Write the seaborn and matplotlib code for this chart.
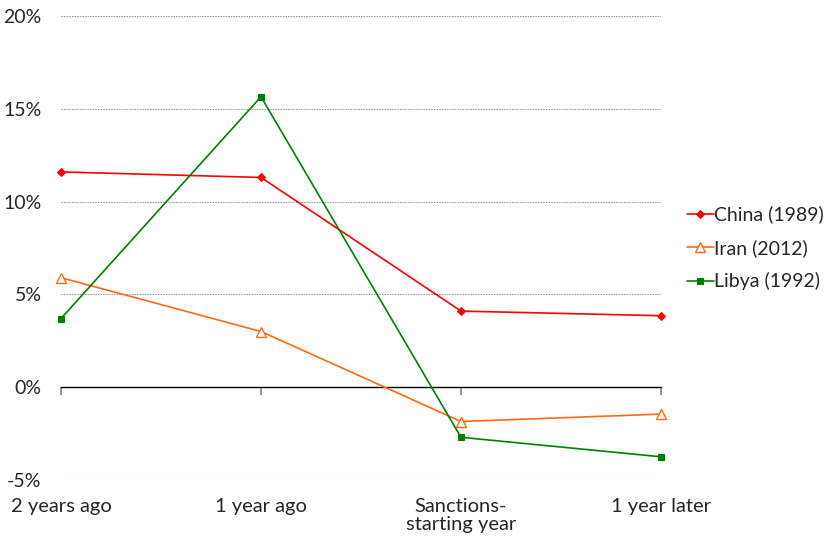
import matplotlib
matplotlib.use("Agg")
import matplotlib.pyplot as plt
import pandas as pd
import seaborn as sns

# Real GDP growth around the start of sanctions
periods = ["2 years ago", "1 year ago", "Sanctions-\nstarting year", "1 year later"]
china_1989 = [11.6, 11.3, 4.1, 3.85]
iran_2012 = [5.9, 3.0, -1.85, -1.45]
libya_1992 = [3.7, 15.65, -2.7, -3.75]

series_names = ["China (1989)", "Iran (2012)", "Libya (1992)"]
y_ticks = [-5, 0, 5, 10, 15, 20]

rows = []
for name, vals in zip(series_names, [china_1989, iran_2012, libya_1992]):
    for i, v in enumerate(vals):
        rows.append({"period": i, "growth": v, "country": name})
df = pd.DataFrame(rows)

sns.set_theme(style="white")
plt.rcParams["font.family"] = ["Lato", "DejaVu Sans"]

fig = plt.figure(figsize=(8.29, 5.41), dpi=100)
ax = fig.add_axes([0.0736, 0.1128, 0.7237, 0.8576])

ORANGE = "#ff6a10"
RED = "#ff0000"
GREEN = "#008000"
palette = {"China (1989)": RED, "Iran (2012)": ORANGE, "Libya (1992)": GREEN}
markers = {"China (1989)": "D", "Iran (2012)": "^", "Libya (1992)": "s"}

sns.lineplot(data=df, x="period", y="growth", hue="country", style="country",
             palette=palette, markers=markers, dashes=False, linewidth=1.2,
             markersize=5, ax=ax, legend=True)


def style_line(line):
    c = matplotlib.colors.to_hex(line.get_color()).lower()
    if c == ORANGE:
        line.set_markerfacecolor("white")
        line.set_markeredgecolor(ORANGE)
        line.set_markeredgewidth(1.0)
        line.set_markersize(7)
    elif c == RED:
        line.set_markersize(4.5)
        line.set_markeredgecolor(RED)
    elif c == GREEN:
        line.set_markersize(5)
        line.set_markeredgecolor(GREEN)


for line in ax.get_lines():
    style_line(line)
    line.set_clip_on(False)
    line.set_zorder(3)

ax.set_xlim(0, 3)
ax.set_ylim(-5, 20)
ax.set_yticks(y_ticks)
ax.set_yticklabels([f"{t}%" for t in y_ticks], fontsize=14)
ax.tick_params(axis="y", length=0, pad=14)

# dotted horizontal gridlines (zero line drawn as the axis itself)
for t in y_ticks:
    if t != 0:
        ax.axhline(t, color="#9a9a9a", linestyle=(0, (1.5, 1)), linewidth=0.75, zorder=0)

for s in ["left", "right", "top"]:
    ax.spines[s].set_visible(False)
ax.spines["bottom"].set_position(("data", 0))
ax.spines["bottom"].set_color("black")
ax.spines["bottom"].set_linewidth(1.0)
ax.set_xticks(range(len(periods)))
ax.tick_params(axis="x", direction="out", length=6, width=1.2, color="#808080",
               labelbottom=False, bottom=True)
ax.set_xlabel("")
ax.set_ylabel("")

sec = ax.secondary_xaxis("bottom")
sec.set_xticks(range(len(periods)))
sec.set_xticklabels(periods, fontsize=14.5, linespacing=1.05)
sec.tick_params(axis="x", length=0, pad=13)
sec.spines["bottom"].set_visible(False)

handles, labels = ax.get_legend_handles_labels()
for h in handles:
    style_line(h)
ax.legend(handles, labels, loc="center left", bbox_to_anchor=(1.03, 0.5),
          frameon=False, fontsize=14, handlelength=1.4, handletextpad=0.0,
          labelspacing=0.8, borderaxespad=0)

fig.savefig("out.png", dpi=100)
